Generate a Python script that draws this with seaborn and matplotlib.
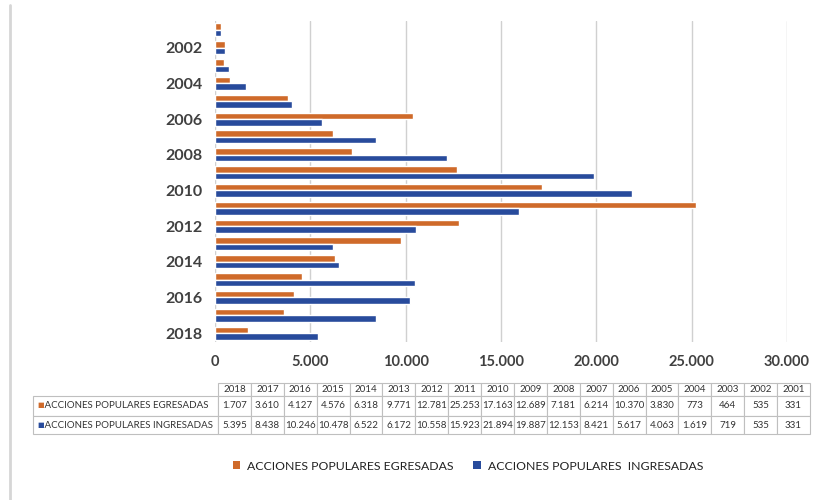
import matplotlib
matplotlib.use("Agg")
import matplotlib.pyplot as plt
import matplotlib.ticker as mticker
from matplotlib.lines import Line2D
from matplotlib.patches import Patch
import seaborn as sns
import pandas as pd

# ---- data (table order: 2018 -> 2001) ----
years = [2018, 2017, 2016, 2015, 2014, 2013, 2012, 2011, 2010, 2009,
         2008, 2007, 2006, 2005, 2004, 2003, 2002, 2001]
egresadas = [1707, 3610, 4127, 4576, 6318, 9771, 12781, 25253, 17163, 12689,
             7181, 6214, 10370, 3830, 773, 464, 535, 331]
ingresadas = [5395, 8438, 10246, 10478, 6522, 6172, 10558, 15923, 21894, 19887,
              12153, 8421, 5617, 4063, 1619, 719, 535, 331]
serie_egr = "ACCIONES POPULARES EGRESADAS"
serie_ing = "ACCIONES POPULARES  INGRESADAS"
table_egr = "ACCIONES POPULARES EGRESADAS"
table_ing = "ACCIONES POPULARES INGRESADAS"

ORANGE = "#CF6A2A"
BLUE = "#284B9C"
TXT = "#404040"

sns.set_theme(style="white")
plt.rcParams["font.family"] = ["Lato", "DejaVu Sans"]

df = pd.DataFrame({
    "year": [str(y) for y in years] * 2,
    "value": egresadas + ingresadas,
    "serie": [serie_egr] * len(years) + [serie_ing] * len(years),
})
order = [str(y) for y in sorted(years)]

fig = plt.figure(figsize=(8.2, 5.0), dpi=100)
ax = fig.add_axes([215 / 820, 1 - 342 / 500, (787 - 215) / 820, (342 - 21) / 500])

sns.barplot(data=df, y="year", x="value", hue="serie", order=order,
            hue_order=[serie_egr, serie_ing], palette=[ORANGE, BLUE],
            orient="h", width=0.72, ax=ax, legend=False, saturation=1)

ax.set_xlim(0, 30000)
ax.set_xticks(range(0, 30001, 5000))
ax.xaxis.set_major_formatter(mticker.FuncFormatter(lambda v, p: f"{int(v):,}".replace(",", ".")))
ax.set_yticks(range(len(order)))
ax.set_yticklabels([y if int(y) % 2 == 0 else "" for y in order])
ax.tick_params(axis="x", length=0, labelsize=10.5, colors=TXT, pad=9)
ax.tick_params(axis="y", length=0, labelsize=11.5, colors=TXT, pad=9)
for lab in ax.get_xticklabels() + ax.get_yticklabels():
    lab.set_fontweight("bold")
ax.set_xlabel("")
ax.set_ylabel("")
ax.grid(axis="x", color="#d0d0d0", linewidth=1.0)
ax.set_axisbelow(True)
for s in ax.spines.values():
    s.set_visible(False)
ax.axvline(0, color="#d0d0d0", linewidth=0.8, zorder=0)

# ---- data table ----
tax = fig.add_axes([33 / 820, 1 - 434 / 500, (810 - 33) / 820, (434 - 383) / 500])
tax.axis("off")
fmt = lambda v: f"{v:,}".replace(",", ".")
cell_text = [[""] + [str(y) for y in years],
             ["   " + table_egr] + [fmt(v) for v in egresadas],
             ["   " + table_ing] + [fmt(v) for v in ingresadas]]
label_w = (218 - 33) / (810 - 33)
col_w = (1 - label_w) / len(years)
tbl = tax.table(cellText=cell_text, colWidths=[label_w] + [col_w] * len(years),
                bbox=[0, 0, 1, 1], cellLoc="center")
tbl.auto_set_font_size(False)
heights = [13 / 51, 20 / 51, 18 / 51]
for (r, c), cell in tbl.get_celld().items():
    cell.set_edgecolor("#bfbfbf")
    cell.set_linewidth(0.8)
    cell.set_height(heights[r])
    cell.get_text().set_fontsize(7)
    cell.get_text().set_color("#333333")
    if c == 0:
        cell.get_text().set_ha("left")
        cell._loc = "left"
        cell.PAD = 0.02
    if r == 0 and c == 0:
        cell.set_edgecolor("white")
fig.text(37 / 820, 1 - 405 / 500, "■", color=ORANGE, fontsize=5, va="center", ha="left")
fig.text(37 / 820, 1 - 424 / 500, "■", color=BLUE, fontsize=5, va="center", ha="left")

# ---- legend ----
handles = [Patch(facecolor=ORANGE, edgecolor="none"), Patch(facecolor=BLUE, edgecolor="none")]
fig.legend(handles, [serie_egr, serie_ing], loc="center", bbox_to_anchor=(468 / 820, 1 - 466 / 500),
           ncol=2, frameon=False, handlelength=0.6, handleheight=0.6,
           columnspacing=1.6, handletextpad=0.6, labelcolor="#222222",
           prop={"family": ["Lato", "DejaVu Sans"], "size": 8.8})

# left frame line
fig.add_artist(Line2D([10 / 820, 10 / 820], [0, 1 - 5 / 500], transform=fig.transFigure,
                      color="#d6d6d6", linewidth=2))

fig.savefig("out.png", dpi=100, facecolor="white")
